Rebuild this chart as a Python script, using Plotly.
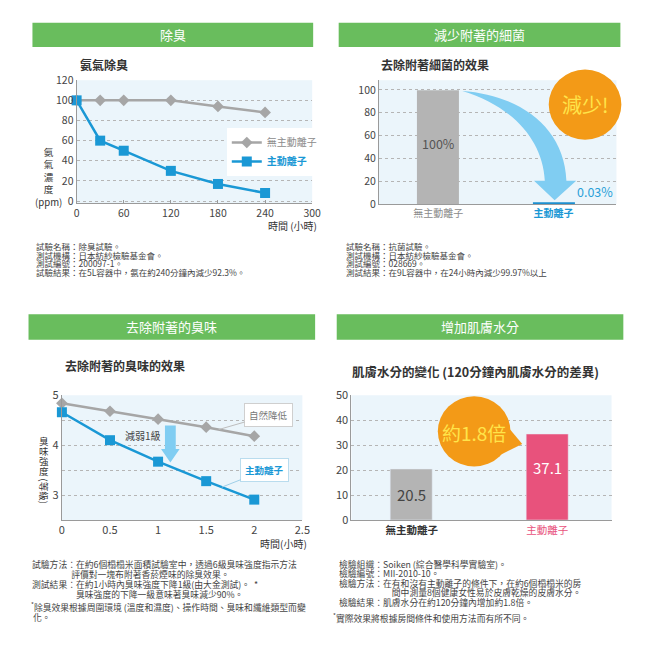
import plotly.graph_objects as go

# ---------------- data ----------------
p1_time = [0, 30, 60, 120, 180, 240]
p1_without = [100, 100, 100, 100, 94, 88]
p1_with = [100, 60, 50, 30, 17, 8]
p1_xticks = [0, 60, 120, 180, 240, 300]
p1_yticks = [0, 20, 40, 60, 80, 100, 120]

p2_cats = ["無主動離子", "主動離子"]
p2_vals = [100, 0.03]
p2_labels = ["100%", "0.03%"]
p2_yticks = [0, 20, 40, 60, 80, 100]

p3_time = [0, 0.5, 1, 1.5, 2]
p3_natural = [4.84, 4.68, 4.52, 4.36, 4.18]
p3_ion = [4.66, 4.10, 3.67, 3.28, 2.91]
p3_xticks = [0, 0.5, 1, 1.5, 2, 2.5]
p3_xticktext = ["0", "0.5", "1", "1.5", "2", "2.5"]
p3_yticks = [3, 4, 5]
p3_minor = [3.5, 4.5]

p4_cats = ["無主動離子", "主動離子"]
p4_vals = [20.5, 34.5]
p4_labels = ["20.5", "37.1"]
p4_yticks = [0, 10, 20, 30, 40, 50]

# ---------------- style ----------------
W = H = 650
FONT = "Noto Sans CJK TC, Noto Sans, sans-serif"
GREEN = "#69bd5d"
GRAY_LINE = "#a6a6a6"
BLUE = "#1a98d5"
BAR_GRAY = "#b4b4b4"
PINK = "#e8527c"
ORANGE = "#f39a17"
YELLOW = "#ffe44a"
ARROW_BLUE = "#80cdf2"
BG = "#ebf5fb"
TXT = "#333333"
NOTE = "#444444"


def fx(x):
    return x / W


def fy(y):
    return 1 - y / H


def ppath(points, close=True):
    s = ""
    for i, p in enumerate(points):
        if p[0] == "C":
            s += " C " + " ".join(f"{fx(a):.5f},{fy(b):.5f}" for a, b in p[1:])
        else:
            s += (" M " if i == 0 else " L ") + f"{fx(p[0]):.5f},{fy(p[1]):.5f}"
    return s + (" Z" if close else "")


def ann(text, x, y, size=9, color=TXT, xanchor="left", yanchor="middle", **kw):
    return dict(text=text, x=fx(x), y=fy(y), xref="paper", yref="paper",
                showarrow=False, xanchor=xanchor, yanchor=yanchor,
                font=dict(size=size, color=color, family=FONT), **kw)


def block(lines, glyph):
    # lines joined; glyph size set on inner spans, line pitch set by annotation font
    return "<br>".join(f"<span style='font-size:{glyph}px'>{t}</span>" for t in lines)


fig = go.Figure()

# ---- panel 1: lines ----
fig.add_trace(go.Scatter(
    x=p1_time, y=p1_without, mode="lines+markers",
    name="<span style='color:#8c8c8c'>無主動離子</span>",
    line=dict(color=GRAY_LINE, width=2.5),
    marker=dict(symbol="diamond", size=9, color=GRAY_LINE),
    xaxis="x", yaxis="y", cliponaxis=False))
fig.add_trace(go.Scatter(
    x=p1_time, y=p1_with, mode="lines+markers",
    name=f"<b><span style='color:{BLUE}'>主動離子</span></b>",
    line=dict(color=BLUE, width=2.5),
    marker=dict(symbol="square", size=10, color=BLUE),
    xaxis="x", yaxis="y", cliponaxis=False))

# ---- panel 2: bars ----
fig.add_trace(go.Bar(
    x=p2_cats, y=p2_vals, width=0.366,
    marker=dict(color=[BAR_GRAY, "#1c8fd0"],
                line=dict(color=[BAR_GRAY, "#1c8fd0"], width=[0, 4])),
    showlegend=False, xaxis="x2", yaxis="y2"))

# ---- panel 3: lines ----
fig.add_trace(go.Scatter(
    x=p3_time, y=p3_natural, mode="lines+markers", showlegend=False,
    line=dict(color=GRAY_LINE, width=2.5),
    marker=dict(symbol="diamond", size=9, color=GRAY_LINE),
    xaxis="x3", yaxis="y3", cliponaxis=False))
fig.add_trace(go.Scatter(
    x=p3_time, y=p3_ion, mode="lines+markers", showlegend=False,
    line=dict(color=BLUE, width=2.5),
    marker=dict(symbol="square", size=10, color=BLUE),
    xaxis="x3", yaxis="y3", cliponaxis=False))

# ---- panel 4: bars ----
fig.add_trace(go.Bar(
    x=p4_cats, y=p4_vals, width=0.31,
    marker=dict(color=[BAR_GRAY, PINK]),
    showlegend=False, xaxis="x4", yaxis="y4"))


def axc(size=10.5):
    return dict(showline=True, linecolor="#9a9a9a", linewidth=1, zeroline=False,
                tickfont=dict(size=size, color="#444444", family=FONT))


grid = dict(showgrid=True, gridcolor="#b5b5b5", griddash="dot", gridwidth=1)

fig.update_layout(
    width=W, height=H, margin=dict(l=0, r=0, t=0, b=0),
    paper_bgcolor="white", plot_bgcolor=BG,
    font=dict(family=FONT, color=TXT),
    xaxis=dict(domain=[fx(75), fx(315)], range=[0, 300], tickvals=p1_xticks,
               anchor="y", showgrid=False, ticks="inside", ticklen=3, tickcolor="#9a9a9a",
               **axc(10.5)),
    yaxis=dict(domain=[fy(199), fy(73)], range=[-2, 120], tickvals=p1_yticks,
               anchor="x", **grid, **axc(10.5)),
    xaxis2=dict(domain=[fx(383), fx(625)], type="category", range=[-0.515, 1.545],
                tickvals=p2_cats,
                ticktext=["<span style='color:#8a8a8a'>無主動離子</span>",
                          f"<b><span style='color:{BLUE}'>主動離子</span></b>"],
                anchor="y2", showgrid=False, **axc(10)),
    yaxis2=dict(domain=[fy(200), fy(73)], range=[0, 108.5], tickvals=p2_yticks,
                anchor="x2", **grid, **axc(10.5)),
    xaxis3=dict(domain=[fx(60), fx(305)], range=[0, 2.5], tickvals=p3_xticks,
                ticktext=p3_xticktext, anchor="y3", showgrid=False, **axc(11)),
    yaxis3=dict(domain=[fy(524), fy(396)], range=[2.5, 5.0], tickvals=p3_yticks,
                minor=dict(tickvals=p3_minor, showgrid=True, gridcolor="#b5b5b5",
                           griddash="dot", ticks=""),
                anchor="x3", **grid, **axc(11)),
    xaxis4=dict(domain=[fx(355), fx(620)], type="category", range=[-0.446, 1.475],
                tickvals=p4_cats,
                ticktext=["<b><span style='color:#333'>無主動離子</span></b>",
                          f"<span style='color:{PINK}'>主動離子</span>"],
                anchor="y4", showgrid=False, **axc(10.5)),
    yaxis4=dict(domain=[fy(524), fy(396)], range=[0, 50], tickvals=p4_yticks,
                anchor="x4", **grid, **axc(11)),
    legend=dict(x=fx(228), y=fy(122), xanchor="left", yanchor="top",
                bgcolor="white", font=dict(size=10, family=FONT),
                tracegroupgap=0, itemwidth=30),
    bargap=0,
)

shapes = []
# green headers
for (x0, x1, y0, y1) in [(30, 316, 14, 39), (342, 629, 14, 39), (26, 318, 313, 339), (340, 632, 313, 339)]:
    shapes.append(dict(type="rect", xref="paper", yref="paper", x0=fx(x0), x1=fx(x1),
                       y0=fy(y1), y1=fy(y0), fillcolor=GREEN, line=dict(width=0), layer="below"))
# curved arrow panel 2
shapes.append(dict(type="path", xref="paper", yref="paper",
                   path=ppath([(468, 84), ("C", (525, 88), (572, 120), (574, 176)),
                               (584, 176), (562, 196), (541, 176), (552, 176),
                               ("C", (550, 135), (520, 100), (468, 84))]),
                   fillcolor=ARROW_BLUE, line=dict(width=0)))
# orange circle panel 2
shapes.append(dict(type="circle", xref="paper", yref="paper", x0=fx(556), x1=fx(630),
                   y0=fy(134), y1=fy(62), fillcolor=ORANGE, line=dict(width=0)))
# down arrow panel 3
shapes.append(dict(type="path", xref="paper", yref="paper",
                   path=ppath([(165, 427), (176, 427), (176, 451), (180, 451), (170.5, 465),
                               (161, 451), (165, 451)]),
                   fillcolor=ARROW_BLUE, line=dict(width=0)))
# speech bubble panel 4
shapes.append(dict(type="path", xref="paper", yref="paper",
                   path=ppath([(510, 423), (529, 446), (505, 458)]),
                   fillcolor=ORANGE, line=dict(width=0)))
shapes.append(dict(type="circle", xref="paper", yref="paper", x0=fx(443), x1=fx(517),
                   y0=fy(469), y1=fy(397), fillcolor=ORANGE, line=dict(width=0)))
fig.update_layout(shapes=shapes)

A = []
# headers
A.append(ann("除臭", 173, 26.5, 13, "white", "center"))
A.append(ann("減少附著的細菌", 485.5, 26.5, 13, "white", "center"))
A.append(ann("去除附著的臭味", 172, 326, 13, "white", "center"))
A.append(ann("增加肌膚水分", 486, 326, 13, "white", "center"))
# chart titles
A.append(ann("<b>氨氣除臭</b>", 76, 57, 12))
A.append(ann("<b>去除附著細菌的效果</b>", 383, 57, 12))
A.append(ann("<b>去除附著的臭味的效果</b>", 61, 366, 12))
A.append(ann("<b>肌膚水分的變化 (120分鐘內肌膚水分的差異)</b>", 354, 372, 12.5))
# panel 1 axis titles
A.append(ann("氨<br>氣<br>濃<br>度<br>(ppm)", 46, 172, 9.6, TXT, "center"))
A.append(ann("時間 (小時)", 322, 222, 10, TXT, "right"))
# panel 2 labels
A.append(dict(text=p2_labels[0], x=p2_cats[0], y=p2_vals[0] * 0.5, yshift=3,
              xref="x2", yref="y2", showarrow=False,
              font=dict(size=12.5, color="#555555", family=FONT)))
A.append(dict(text=p2_labels[1], x=p2_cats[1], y=p2_vals[1], xref="x2", yref="y2",
              xshift=41, yshift=13, showarrow=False,
              font=dict(size=12.5, color="#2a9fd8", family=FONT)))
A.append(ann("減少!", 593, 98, 20, YELLOW, "center"))
# panel 3 labels
A.append(ann(block(list("臭味強度"), 9.5), 42, 458, 7.7, TXT, "center"))
A.append(ann("(等級)", 42, 494, 9.5, TXT, "center", textangle=90))
A.append(ann("時間(小時)", 312, 548, 10, TXT, "right"))
A.append(ann("減弱1級", 143, 437, 10, "#444444", "center"))
A.append(dict(text="自然降低", x=1.63, y=4.313, xref="x3", yref="y3", showarrow=True,
              ax=50, ay=-14.5, arrowhead=0, arrowwidth=1, arrowcolor="#bdbdbd",
              bgcolor="white", bordercolor="#cfcfcf", borderwidth=1, borderpad=4,
              font=dict(size=9.5, color="#777777", family=FONT)))
A.append(dict(text="<b>主動離子</b>", x=1.663, y=3.16, xref="x3", yref="y3", showarrow=True,
              ax=43, ay=-17, arrowhead=0, arrowwidth=1, arrowcolor="#9fcfe8",
              bgcolor="white", bordercolor="#b9dcee", borderwidth=1, borderpad=4,
              font=dict(size=9.5, color=BLUE, family=FONT)))
# panel 4 labels
A.append(dict(text=p4_labels[0], x=p4_cats[0], y=p4_vals[0] * 0.5, xref="x4", yref="y4",
              showarrow=False, font=dict(size=15, color="#444444", family=FONT)))
A.append(dict(text=p4_labels[1], x=p4_cats[1], y=p4_vals[1] * 0.61, xref="x4", yref="y4",
              showarrow=False, font=dict(size=15, color="white", family=FONT)))
A.append(ann("約1.8倍", 480, 434, 19, YELLOW, "center"))

# text blocks (each block one text; line pitch ~ 1.3 x annotation font)
IND = "　"
tb1 = ["試驗名稱：除臭試驗。", "測試機構：日本紡紗檢驗基金會。", "測試編號：200097-1。",
       "試驗結果：在5L容器中，氨在約240分鐘內減少92.3%。"]
tb2 = ["試驗名稱：抗菌試驗。", "測試機構：日本紡紗檢驗基金會。", "測試編號：028669。",
       "測試結果：在9L容器中，在24小時內減少99.97%以上"]
A.append(ann(block(tb1, 8.5), 32, 256.5, 6.7, NOTE, align="left"))
A.append(ann(block(tb2, 8.5), 347, 256.5, 6.7, NOTE, align="left"))

tb3 = ["試驗方法：在約6個榻榻米面積試驗室中，透過6級臭味強度指示方法",
       IND * 4 + "&nbsp;&nbsp;評價對一塊布附著香菸煙味的除臭效果。",
       "測試結果：在約1小時內臭味強度下降1級(由大金測試)。  *",
       IND * 5 + "臭味強度的下降一級意味著臭味減少90%。"]
tb3_note = ["<sup>*</sup>除臭效果根據周圍環境 (溫度和濕度)、操作時間、臭味和纖維類型而變",
            "&nbsp;化。"]
A.append(ann(block(tb3, 8.8), 28, 584.5, 7.6, NOTE, align="left"))
A.append(ann(block(tb3_note, 8.8), 26, 618, 7.8, NOTE, align="left"))

tb4 = ["檢驗組織：Soiken (綜合醫學科學實驗室)。",
       "檢驗編號：MII-2010-10。",
       "檢驗方法：在有和沒有主動離子的條件下，在約6個榻榻米的房",
       IND * 6 + "間中測量8個健康女性易於皮膚乾燥的皮膚水分。",
       "檢驗結果：肌膚水分在約120分鐘內增加約1.8倍。"]
A.append(ann(block(tb4, 8.8), 340, 588.5, 7.3, NOTE, align="left"))
A.append(ann("<sup>*</sup>實際效果將根據房間條件和使用方法而有所不同。", 334, 624, 8.8, NOTE))

fig.update_layout(annotations=A)

fig.write_html("out.html", config={"displayModeBar": False},
               post_script="document.body.style.margin='0';document.body.style.overflow='hidden';")
